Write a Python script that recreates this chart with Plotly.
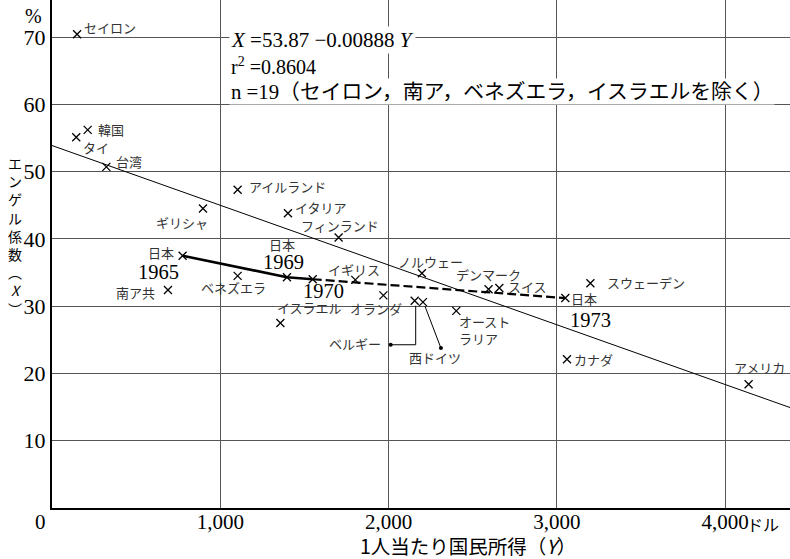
import plotly.graph_objects as go

# ---------------- data ----------------
countries = ["セイロン", "韓国", "タイ", "台湾", "ギリシャ", "南ア共", "ベネズエラ",
             "アイルランド", "イタリア", "フィンランド", "イギリス", "オランダ", "イスラエル",
             "ベルギー", "西ドイツ", "ノルウェー", "オーストラリア", "デンマーク", "スイス",
             "スウェーデン", "カナダ", "アメリカ"]
income = [149, 212, 144, 323, 897, 689, 1103,
          1103, 1402, 1703, 1802, 1969, 1357,
          2155, 2204, 2198, 2402, 2594, 2658,
          3199, 3060, 4139]
engel = [70.4, 56.2, 55.1, 50.7, 44.5, 32.4, 34.5,
         47.3, 43.8, 40.2, 33.9, 31.6, 27.5,
         30.8, 30.6, 34.9, 29.3, 32.5, 32.7,
         33.4, 22.1, 18.4]

japan_years = ["1965", "1969", "1970", "1973"]
japan_income = [776, 1396, 1549, 3050]
japan_engel = [37.5, 34.3, 34.0, 31.2]

reg_a = 53.87
reg_b = -0.00888

x_ticks = [1000, 2000, 3000, 4000]
x_ticktext = ["1,000", "2,000", "3,000", "4,000"]
y_ticks = [10, 20, 30, 40, 50, 60, 70]

# ---------------- layout constants ----------------
W, H = 790, 559
ML, MR, MT, MB = 52, 0, 0, 51
XMAX, YMAX = 4385, 75.5
PW, PH = W - ML - MR, H - MT - MB

def px(xp):
    return (xp - ML) / PW

def py(yp):
    return (H - MB - yp) / PH

SERIF = "Liberation Serif, Noto Sans CJK JP"
CJK = "Noto Sans CJK JP, Liberation Serif"

# label placement (pixel offsets from marker: dx right, dy up)
label_offset = {
    "セイロン": (33, 7), "韓国": (23, 0), "タイ": (20, -10), "台湾": (23, 5),
    "ギリシャ": (-21, -14), "南ア共": (-32, -2), "ベネズエラ": (-4, -12),
    "アイルランド": (50, 3), "イタリア": (33, 6), "フィンランド": (1, 12),
    "イギリス": (-1, 10), "オランダ": (-7, -13), "イスラエル": (29, 15),
    "ベルギー": (-60, -43), "西ドイツ": (12, -55), "ノルウェー": (9, 12),
    "オーストラリア": (28, -19), "デンマーク": (0, 15), "スイス": (28, 1),
    "スウェーデン": (56, 1), "カナダ": (26, 0), "アメリカ": (11, 17),
}
label_text = {"オーストラリア": "オースト<br>ラリア"}

japan_name_offset = [(-22, 3), (-5, 33), None, (19, 0)]
japan_year_offset = [(-24, -16), (-3, 15), (11, -12), (25, -22)]

fig = go.Figure()

# regression line
reg_x = [0, XMAX]
reg_y = [reg_a + reg_b * v for v in reg_x]
fig.add_trace(go.Scatter(x=reg_x, y=reg_y, mode="lines",
                         line=dict(color="black", width=1), hoverinfo="skip"))

# Japan path: solid 1965-1970, dashed 1970-1973
fig.add_trace(go.Scatter(x=japan_income[:3], y=japan_engel[:3], mode="lines",
                         line=dict(color="black", width=2.6), hoverinfo="skip"))
fig.add_trace(go.Scatter(x=japan_income[2:], y=japan_engel[2:], mode="lines",
                         line=dict(color="black", width=2.2, dash="9px,4px"),
                         hoverinfo="skip"))

marker = dict(symbol="x-thin", size=8, line=dict(color="black", width=1.3), color="black")
fig.add_trace(go.Scatter(x=income, y=engel, mode="markers", marker=marker,
                         text=countries, hoverinfo="text"))
fig.add_trace(go.Scatter(x=japan_income, y=japan_engel, mode="markers", marker=marker,
                         text=japan_years, hoverinfo="text"))

ann = []
for name, xv, yv in zip(countries, income, engel):
    dx, dy = label_offset[name]
    ann.append(dict(x=xv, y=yv, xref="x", yref="y", text=label_text.get(name, name),
                    showarrow=False, xshift=dx, yshift=dy, xanchor="center",
                    yanchor="middle", align="left", borderpad=0,
                    font=dict(family=CJK, size=13, color="#333")))

for i, (yr, xv, yv) in enumerate(zip(japan_years, japan_income, japan_engel)):
    if japan_name_offset[i] is not None:
        dx, dy = japan_name_offset[i]
        ann.append(dict(x=xv, y=yv, xref="x", yref="y", text="日本", showarrow=False,
                        xshift=dx, yshift=dy, xanchor="center", yanchor="middle",
                        borderpad=0, font=dict(family=CJK, size=13, color="#333")))
    dx, dy = japan_year_offset[i]
    ann.append(dict(x=xv, y=yv, xref="x", yref="y", text=yr, showarrow=False,
                    xshift=dx, yshift=dy, xanchor="center", yanchor="middle",
                    borderpad=0, font=dict(family=SERIF, size=20.5, color="black")))

# equation block
eq_lines = [
    ("<i>X</i> =53.87 −0.00888 <i>Y</i>", 40, 21),
    ("r<sup>2</sup> =0.8604", 66, 20),
    ("n =19（セイロン，南ア，ベネズエラ，イスラエルを除く）", 91, 20.8),
]
for txt, yc, fs in eq_lines:
    ann.append(dict(x=px(229), y=py(yc), xref="paper", yref="paper", text=txt,
                    showarrow=False, xanchor="left", yanchor="middle",
                    bgcolor="white", borderpad=1,
                    font=dict(family=SERIF, size=fs, color="black")))

def centered(xp, yp, text, family, size, xanchor="center"):
    return dict(x=px(xp), y=py(yp), xref="paper", yref="paper", text=text,
                showarrow=False, xanchor=xanchor, yanchor="middle", borderpad=0,
                font=dict(family=family, size=size, color="black"))

# axis decorations
ann.append(centered(33, 16, "%", SERIF, 20))
ann.append(centered(40, 522, "0", SERIF, 21))
ann.append(centered(746, 524, "ドル", CJK, 16, xanchor="left"))
ann.append(centered(468, 545, "1人当たり国民所得（<i>Y</i>）", CJK, 19.5))
ytitle = "<br>".join(["エ", "ン", "ゲ", "ル", "係", "数", "︵", "<i>X</i>", "︶"])
ann.append(centered(15, 236, ytitle, CJK, 14))

# leader lines for Belgium / West Germany
bel_i = countries.index("ベルギー")
wg_i = countries.index("西ドイツ")
shapes = [
    dict(type="path", xsizemode="pixel", ysizemode="pixel",
         xanchor=income[bel_i], yanchor=engel[bel_i],
         path="M 1 -5 L 1 -44 L -24 -44", line=dict(color="black", width=1)),
    dict(type="circle", xsizemode="pixel", ysizemode="pixel",
         xanchor=income[bel_i], yanchor=engel[bel_i],
         x0=-26, x1=-22, y0=-46, y1=-42, fillcolor="black", line=dict(width=0)),
    dict(type="line", xsizemode="pixel", ysizemode="pixel",
         xanchor=income[wg_i], yanchor=engel[wg_i],
         x0=2, y0=-4, x1=18, y1=-46, line=dict(color="black", width=1)),
    dict(type="circle", xsizemode="pixel", ysizemode="pixel",
         xanchor=income[wg_i], yanchor=engel[wg_i],
         x0=16, x1=20, y0=-48, y1=-44, fillcolor="black", line=dict(width=0)),
]

fig.update_layout(
    width=W, height=H, margin=dict(l=ML, r=MR, t=MT, b=MB),
    paper_bgcolor="white", plot_bgcolor="white", showlegend=False,
    annotations=ann, shapes=shapes,
    xaxis=dict(range=[0, XMAX], tickvals=x_ticks, ticktext=x_ticktext,
               showgrid=True, gridcolor="#555", gridwidth=1, zeroline=False,
               showline=True, linecolor="black", linewidth=2, ticks="",
               ticklabelstandoff=-6,
               tickfont=dict(family=SERIF, size=21, color="black")),
    yaxis=dict(range=[0, YMAX], tickvals=y_ticks,
               showgrid=True, gridcolor="#555", gridwidth=1, zeroline=False,
               showline=True, linecolor="black", linewidth=2, ticks="",
               tickfont=dict(family=SERIF, size=22, color="black")),
)

fig.write_html("out.html")
